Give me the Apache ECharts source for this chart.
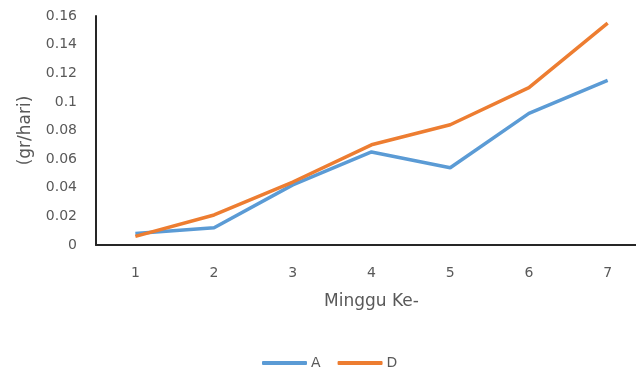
<!DOCTYPE html>
<html>
<head>
<meta charset="utf-8">
<script src="https://cdn.jsdelivr.net/npm/echarts@6/dist/echarts.min.js"></script>
<style>
  html, body { margin: 0; padding: 0; background: #fff; }
  #chart { width: 636px; height: 369px; }
</style>
</head>
<body>
<div id="chart"></div>
<script>
// Weekly growth rate (gr/hari) for treatments A and D
const weeks = ['1', '2', '3', '4', '5', '6', '7'];
const seriesA = [0.008, 0.012, 0.042, 0.065, 0.054, 0.092, 0.115];
const seriesD = [0.006, 0.021, 0.044, 0.070, 0.084, 0.110, 0.155];
const yTicks = { min: 0, max: 0.16, step: 0.02 };

const textColor = '#595959';
const fontFamily = '"DejaVu Sans", "Liberation Sans", sans-serif';

const chart = echarts.init(document.getElementById('chart'), null, { renderer: 'canvas' });

chart.setOption({
  animation: false,
  color: ['#5B9BD5', '#ED7D31'],
  // plot area runs a little past the right edge of the canvas
  grid: { left: 96, top: 16, width: 551, bottom: 124, containLabel: false, outerBoundsMode: 'none' },
  legend: {
    data: ['A', 'D'],
    bottom: -6,
    left: 257,
    icon: 'roundRect',
    itemWidth: 45,
    itemHeight: 4,
    itemGap: 17,
    textStyle: { color: textColor, fontSize: 14, fontFamily: fontFamily, padding: [0, 0, 0, -1] }
  },
  xAxis: {
    type: 'category',
    data: weeks,
    boundaryGap: true,
    axisLine: { lineStyle: { color: '#262626', width: 2 } },
    axisTick: { show: false },
    axisLabel: { color: textColor, fontSize: 14, fontFamily: fontFamily, margin: 21 },
    name: 'Minggu Ke-',
    nameLocation: 'middle',
    nameGap: 48,
    nameTextStyle: { color: textColor, fontSize: 17, fontFamily: fontFamily }
  },
  yAxis: {
    type: 'value',
    min: yTicks.min,
    max: yTicks.max,
    interval: yTicks.step,
    axisLine: { show: true, lineStyle: { color: '#262626', width: 2 } },
    axisTick: { show: false },
    splitLine: { show: false },
    axisLabel: { color: textColor, fontSize: 14, fontFamily: fontFamily, margin: 19 },
    name: '(gr/hari)',
    nameLocation: 'middle',
    nameGap: 62,
    nameRotate: 90,
    nameTextStyle: { color: textColor, fontSize: 17, fontFamily: fontFamily }
  },
  series: [
    {
      name: 'A',
      type: 'line',
      data: seriesA,
      symbol: 'none',
      lineStyle: { width: 3.5, color: '#5B9BD5' }
    },
    {
      name: 'D',
      type: 'line',
      data: seriesD,
      symbol: 'none',
      lineStyle: { width: 3.5, color: '#ED7D31' }
    }
  ]
});
</script>
</body>
</html>
